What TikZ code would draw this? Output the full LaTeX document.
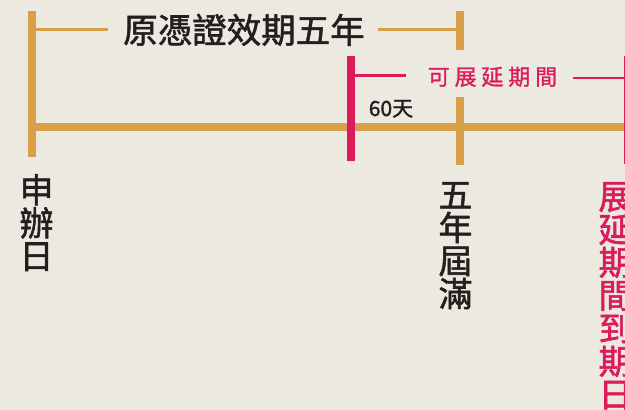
\documentclass[tikz,border=0pt]{standalone}
\usepackage{fontspec}
\setmainfont{Noto Sans CJK TC}[FakeBold=1.6]
\newfontfamily\cjksp{Noto Sans CJK TC}[LetterSpace=22,FakeBold=1.2]
\definecolor{bg}{RGB}{236,234,224}
\definecolor{gold}{RGB}{217,160,72}
\definecolor{rose}{RGB}{220,26,92}
\definecolor{ink}{RGB}{35,31,32}
\tikzset{
  thickbar/.style={line width=8pt},
  thinbar/.style={line width=2.6pt},
  vlabel/.style={inner sep=0pt, anchor=north, align=center, font=\fontsize{34}{33}\selectfont},
}
\begin{document}
\begin{tikzpicture}[x=1pt,y=-1pt]
\fill[bg] (0,0) rectangle (625,410);
\useasboundingbox (0,0) rectangle (625,410);
% key coordinates
\coordinate (Ltop) at (32,11);
\coordinate (Lbot) at (32,157);
\coordinate (Hs) at (28,127);
\coordinate (He) at (625,127);
\coordinate (Ftop) at (460,11);
\coordinate (Fmid1) at (460,50);
\coordinate (Fmid2) at (460,97);
\coordinate (Fbot) at (460,165);
\coordinate (Rtop) at (351,56);
\coordinate (Rbot) at (351,161);
\coordinate (Etop) at (628,56);
\coordinate (Ebot) at (628,164);
\coordinate (T1a) at (36,29.7);
\coordinate (T1b) at (108,29.7);
\coordinate (T2a) at (378,29.7);
\coordinate (T2b) at (456,29.7);
\coordinate (P1a) at (355,75.5);
\coordinate (P1b) at (406,75.5);
\coordinate (P2a) at (573,78);
\coordinate (P2b) at (624,78);
% gold bars
\draw[gold,thickbar] (Hs) -- (He);
\draw[gold,thickbar] (Ltop) -- (Lbot);
\draw[gold,thickbar] (Ftop) -- (Fmid1);
\draw[gold,thickbar] (Fmid2) -- (Fbot);
\draw[gold,thinbar] (T1a) -- (T1b);
\draw[gold,thinbar] (T2a) -- (T2b);
% rose bars
\draw[rose,thickbar] (Rtop) -- (Rbot);
\draw[rose,thickbar] (Etop) -- (Ebot);
\draw[rose,thinbar] (P1a) -- (P1b);
\draw[rose,thinbar] (P2a) -- (P2b);
% texts
\node[inner sep=0pt, anchor=base, text=ink, font=\fontsize{34.5}{36}\selectfont] (title) at (244,43) {原憑證效期五年};
\node[inner sep=0pt, anchor=base, text=rose, font=\cjksp\fontsize{22}{24}\selectfont] (ext) at (492.5,85) {可展延期間};
\node[inner sep=0pt, anchor=base, text=ink, font=\fontsize{21}{24}\selectfont] (days) at (391,116) {60天};
\node[vlabel, text=ink] (apply) at (36.5,174) {申\\辦\\日};
\node[vlabel, text=ink] (expire) at (455.5,182) {五\\年\\屆\\滿};
\node[vlabel, text=rose] (extend) at (615.5,182) {展\\延\\期\\間\\到\\期\\日};
\end{tikzpicture}
\end{document}
